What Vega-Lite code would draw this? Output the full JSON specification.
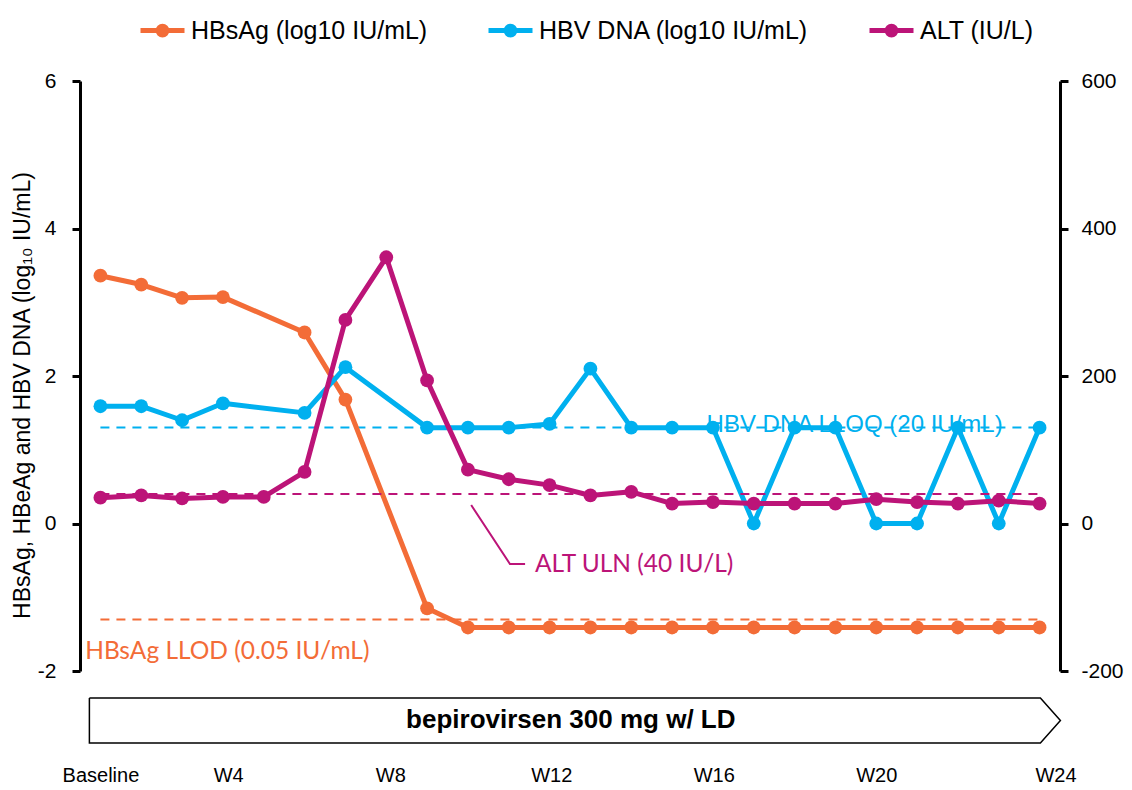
{
  "$schema": "https://vega.github.io/schema/vega-lite/v6.json",
  "width": 980,
  "height": 590,
  "autosize": {"type": "none"},
  "padding": {"left": 80, "top": 81, "right": 72, "bottom": 119},
  "background": "white",
  "config": {
    "view": {"stroke": null},
    "font": "Liberation Sans",
    "axis": {"grid": false}
  },
  "datasets": {
    "virology": [
      {"visit": 0, "series": "HBsAg (log10 IU/mL)", "value": 3.36},
      {"visit": 1, "series": "HBsAg (log10 IU/mL)", "value": 3.24},
      {"visit": 2, "series": "HBsAg (log10 IU/mL)", "value": 3.06},
      {"visit": 3, "series": "HBsAg (log10 IU/mL)", "value": 3.07},
      {"visit": 5, "series": "HBsAg (log10 IU/mL)", "value": 2.59},
      {"visit": 6, "series": "HBsAg (log10 IU/mL)", "value": 1.68},
      {"visit": 8, "series": "HBsAg (log10 IU/mL)", "value": -1.15},
      {"visit": 9, "series": "HBsAg (log10 IU/mL)", "value": -1.41},
      {"visit": 10, "series": "HBsAg (log10 IU/mL)", "value": -1.41},
      {"visit": 11, "series": "HBsAg (log10 IU/mL)", "value": -1.41},
      {"visit": 12, "series": "HBsAg (log10 IU/mL)", "value": -1.41},
      {"visit": 13, "series": "HBsAg (log10 IU/mL)", "value": -1.41},
      {"visit": 14, "series": "HBsAg (log10 IU/mL)", "value": -1.41},
      {"visit": 15, "series": "HBsAg (log10 IU/mL)", "value": -1.41},
      {"visit": 16, "series": "HBsAg (log10 IU/mL)", "value": -1.41},
      {"visit": 17, "series": "HBsAg (log10 IU/mL)", "value": -1.41},
      {"visit": 18, "series": "HBsAg (log10 IU/mL)", "value": -1.41},
      {"visit": 19, "series": "HBsAg (log10 IU/mL)", "value": -1.41},
      {"visit": 20, "series": "HBsAg (log10 IU/mL)", "value": -1.41},
      {"visit": 21, "series": "HBsAg (log10 IU/mL)", "value": -1.41},
      {"visit": 22, "series": "HBsAg (log10 IU/mL)", "value": -1.41},
      {"visit": 23, "series": "HBsAg (log10 IU/mL)", "value": -1.41},
      {"visit": 0, "series": "HBV DNA (log10 IU/mL)", "value": 1.59},
      {"visit": 1, "series": "HBV DNA (log10 IU/mL)", "value": 1.59},
      {"visit": 2, "series": "HBV DNA (log10 IU/mL)", "value": 1.40},
      {"visit": 3, "series": "HBV DNA (log10 IU/mL)", "value": 1.63},
      {"visit": 5, "series": "HBV DNA (log10 IU/mL)", "value": 1.50},
      {"visit": 6, "series": "HBV DNA (log10 IU/mL)", "value": 2.12},
      {"visit": 8, "series": "HBV DNA (log10 IU/mL)", "value": 1.30},
      {"visit": 9, "series": "HBV DNA (log10 IU/mL)", "value": 1.30},
      {"visit": 10, "series": "HBV DNA (log10 IU/mL)", "value": 1.30},
      {"visit": 11, "series": "HBV DNA (log10 IU/mL)", "value": 1.35},
      {"visit": 12, "series": "HBV DNA (log10 IU/mL)", "value": 2.10},
      {"visit": 13, "series": "HBV DNA (log10 IU/mL)", "value": 1.30},
      {"visit": 14, "series": "HBV DNA (log10 IU/mL)", "value": 1.30},
      {"visit": 15, "series": "HBV DNA (log10 IU/mL)", "value": 1.30},
      {"visit": 16, "series": "HBV DNA (log10 IU/mL)", "value": 0.0},
      {"visit": 17, "series": "HBV DNA (log10 IU/mL)", "value": 1.30},
      {"visit": 18, "series": "HBV DNA (log10 IU/mL)", "value": 1.30},
      {"visit": 19, "series": "HBV DNA (log10 IU/mL)", "value": 0.0},
      {"visit": 20, "series": "HBV DNA (log10 IU/mL)", "value": 0.0},
      {"visit": 21, "series": "HBV DNA (log10 IU/mL)", "value": 1.30},
      {"visit": 22, "series": "HBV DNA (log10 IU/mL)", "value": 0.0},
      {"visit": 23, "series": "HBV DNA (log10 IU/mL)", "value": 1.30}
    ],
    "alt": [
      {"visit": 0, "series": "ALT (IU/L)", "value": 35},
      {"visit": 1, "series": "ALT (IU/L)", "value": 38},
      {"visit": 2, "series": "ALT (IU/L)", "value": 34},
      {"visit": 3, "series": "ALT (IU/L)", "value": 36},
      {"visit": 4, "series": "ALT (IU/L)", "value": 36},
      {"visit": 5, "series": "ALT (IU/L)", "value": 70},
      {"visit": 6, "series": "ALT (IU/L)", "value": 276},
      {"visit": 7, "series": "ALT (IU/L)", "value": 361},
      {"visit": 8, "series": "ALT (IU/L)", "value": 194},
      {"visit": 9, "series": "ALT (IU/L)", "value": 73},
      {"visit": 10, "series": "ALT (IU/L)", "value": 60},
      {"visit": 11, "series": "ALT (IU/L)", "value": 52},
      {"visit": 12, "series": "ALT (IU/L)", "value": 38},
      {"visit": 13, "series": "ALT (IU/L)", "value": 43},
      {"visit": 14, "series": "ALT (IU/L)", "value": 27},
      {"visit": 15, "series": "ALT (IU/L)", "value": 29},
      {"visit": 16, "series": "ALT (IU/L)", "value": 27},
      {"visit": 17, "series": "ALT (IU/L)", "value": 27},
      {"visit": 18, "series": "ALT (IU/L)", "value": 27},
      {"visit": 19, "series": "ALT (IU/L)", "value": 33},
      {"visit": 20, "series": "ALT (IU/L)", "value": 29},
      {"visit": 21, "series": "ALT (IU/L)", "value": 27},
      {"visit": 22, "series": "ALT (IU/L)", "value": 31},
      {"visit": 23, "series": "ALT (IU/L)", "value": 27}
    ],
    "treatmentArrow": [
      {"k": 0, "visit": -0.27, "value": -2.366},
      {"k": 1, "visit": 23.02, "value": -2.366},
      {"k": 2, "visit": 23.51, "value": -2.671},
      {"k": 3, "visit": 23.02, "value": -2.976},
      {"k": 4, "visit": -0.27, "value": -2.976},
      {"k": 5, "visit": -0.27, "value": -2.366}
    ],
    "uln_leader": [
      {"k": 0, "visit": 9.08, "value": 25},
      {"k": 1, "visit": 10.03, "value": -55},
      {"k": 2, "visit": 10.40, "value": -55}
    ]
  },
  "encoding": {
    "x": {
      "field": "visit",
      "type": "quantitative",
      "scale": {"domain": [-0.5, 23.5], "nice": false, "zero": false},
      "axis": {
        "title": null,
        "domain": false,
        "ticks": false,
        "grid": false,
        "values": [0, 3.13, 7.1, 11.04, 15.02, 19.0, 23.39],
        "labelExpr": "datum.value < 1 ? 'Baseline' : datum.value < 5 ? 'W4' : datum.value < 9 ? 'W8' : datum.value < 13 ? 'W12' : datum.value < 17 ? 'W16' : datum.value < 21 ? 'W20' : 'W24'",
        "labelFontSize": 20,
        "labelColor": "black",
        "labelPadding": 94,
        "labelFlush": false,
        "labelOverlap": false
      }
    }
  },
  "layer": [
    {
      "encoding": {
        "y": {
          "field": "value",
          "type": "quantitative",
          "scale": {"domain": [-2, 6], "nice": false, "zero": false},
          "axis": {
            "orient": "left",
            "values": [-2, 0, 2, 4, 6],
            "labelExpr": "datum.value < 0 ? '-' + abs(datum.value) : datum.label",
            "title": "HBsAg, HBeAg and HBV DNA (log₁₀ IU/mL)",
            "titleFontSize": 23,
            "titleFontWeight": "normal",
            "titleColor": "black",
            "titleX": -58,
            "titleY": 314,
            "titleAlign": "center",
            "titleBaseline": "middle",
            "titleAngle": -90,
            "domainColor": "black",
            "domainWidth": 3,
            "tickColor": "black",
            "tickWidth": 3,
            "tickSize": 8,
            "labelFontSize": 21,
            "labelColor": "black",
            "labelPadding": 16
          }
        }
      },
      "layer": [
        {
          "data": {"values": [{"visit": 0, "x2": 23, "value": 1.301}]},
          "mark": {"type": "rule", "color": "#00B0EF", "strokeWidth": 2, "strokeDash": [9, 7]},
          "encoding": {"x2": {"field": "x2"}}
        },
        {
          "data": {"values": [{"visit": 0, "x2": 23, "value": -1.301}]},
          "mark": {"type": "rule", "color": "#F36C37", "strokeWidth": 2, "strokeDash": [9, 7]},
          "encoding": {"x2": {"field": "x2"}}
        },
        {
          "data": {"name": "virology"},
          "mark": {"type": "line", "strokeWidth": 5, "strokeJoin": "round"},
          "encoding": {
            "color": {
              "field": "series",
              "type": "nominal",
              "scale": {
                "domain": ["HBsAg (log10 IU/mL)", "HBV DNA (log10 IU/mL)", "ALT (IU/L)"],
                "range": ["#F36C37", "#00B0EF", "#BC1478"]
              },
              "legend": {
                "orient": "none",
                "legendX": 58,
                "legendY": -75,
                "direction": "horizontal",
                "title": null,
                "labelFontSize": 25,
                "labelColor": "black",
                "labelLimit": 500,
                "labelOffset": 4,
                "columnPadding": 50,
                "symbolType": "M-1,0H1M0.2,0A0.2,0.2,0,1,1,-0.2,0A0.2,0.2,0,1,1,0.2,0Z",
                "symbolSize": 1936,
                "symbolStrokeWidth": 5,
                "encode": {
                  "symbols": {
                    "update": {
                      "fill": {"scale": "color", "field": "value"},
                      "stroke": {"scale": "color", "field": "value"},
                      "opacity": {"value": 1}
                    }
                  }
                }
              }
            }
          }
        },
        {
          "data": {"name": "virology"},
          "mark": {"type": "point", "filled": true, "size": 190, "opacity": 1},
          "encoding": {"color": {"field": "series", "type": "nominal"}}
        },
        {
          "data": {"values": [{"visit": 18.47, "value": 1.33, "label": "HBV DNA LLOQ (20 IU/mL)"}]},
          "mark": {"type": "text", "fontSize": 24, "color": "#00B0EF", "align": "center", "baseline": "middle"},
          "encoding": {"text": {"field": "label"}}
        },
        {
          "data": {"values": [{"visit": -0.37, "value": -1.74, "label": "HBsAg LLOD (0.05 IU/mL)"}]},
          "mark": {"type": "text", "font": "Lato", "fontSize": 24.5, "color": "#F36C37", "align": "left", "baseline": "middle"},
          "encoding": {"text": {"field": "label"}}
        },
        {
          "data": {"name": "treatmentArrow"},
          "mark": {"type": "line", "color": "black", "strokeWidth": 1.5, "strokeJoin": "miter"},
          "encoding": {"order": {"field": "k", "type": "quantitative"}}
        },
        {
          "data": {"values": [{"visit": 11.52, "value": -2.671, "label": "bepirovirsen 300 mg w/ LD"}]},
          "mark": {"type": "text", "fontSize": 26, "fontWeight": "bold", "color": "black", "align": "center", "baseline": "middle"},
          "encoding": {"text": {"field": "label"}}
        }
      ]
    },
    {
      "encoding": {
        "y": {
          "field": "value",
          "type": "quantitative",
          "scale": {"domain": [-200, 600], "nice": false, "zero": false},
          "axis": {
            "orient": "right",
            "values": [-200, 0, 200, 400, 600],
            "labelExpr": "datum.value < 0 ? '-' + abs(datum.value) : datum.label",
            "title": null,
            "domainColor": "black",
            "domainWidth": 3,
            "tickColor": "black",
            "tickWidth": 3,
            "tickSize": 8,
            "labelFontSize": 21,
            "labelColor": "black",
            "labelPadding": 13
          }
        }
      },
      "layer": [
        {
          "data": {"values": [{"visit": 0, "x2": 23, "value": 40}]},
          "mark": {"type": "rule", "color": "#BC1478", "strokeWidth": 2, "strokeDash": [9, 7]},
          "encoding": {"x2": {"field": "x2"}}
        },
        {
          "data": {"name": "uln_leader"},
          "mark": {"type": "line", "color": "#BC1478", "strokeWidth": 2},
          "encoding": {"order": {"field": "k", "type": "quantitative"}}
        },
        {
          "data": {"values": [{"visit": 10.64, "value": -56, "label": "ALT ULN (40 IU/L)"}]},
          "mark": {"type": "text", "font": "Lato", "fontSize": 24.5, "color": "#BC1478", "align": "left", "baseline": "middle"},
          "encoding": {"text": {"field": "label"}}
        },
        {
          "data": {"name": "alt"},
          "mark": {"type": "line", "strokeWidth": 5, "strokeJoin": "round"},
          "encoding": {"color": {"field": "series", "type": "nominal"}}
        },
        {
          "data": {"name": "alt"},
          "mark": {"type": "point", "filled": true, "size": 190, "opacity": 1},
          "encoding": {"color": {"field": "series", "type": "nominal"}}
        }
      ]
    }
  ],
  "resolve": {"scale": {"y": "independent"}, "axis": {"y": "independent"}}
}
